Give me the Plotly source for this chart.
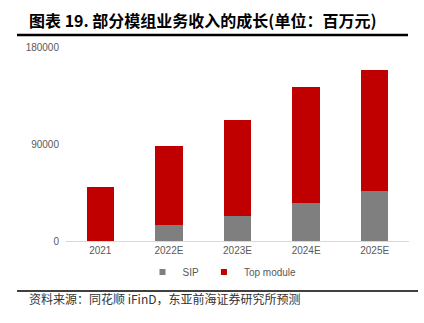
import plotly.graph_objects as go

categories = ["2021", "2022E", "2023E", "2024E", "2025E"]
sip = [0, 15300, 23000, 35400, 46200]
top_module = [50200, 73200, 89600, 107500, 112800]
y_ticks = [0, 90000, 180000]

W, H = 424, 323
L, R, T, B = 66, 15, 47, 82
pw, ph = W - L - R, H - T - B

def px(x):
    return (x - L) / pw

def py(y):
    return (H - B - y) / ph

GRAY, RED = "#7f7f7f", "#c00000"

fig = go.Figure()
fig.add_trace(go.Bar(x=categories, y=sip, name="SIP", showlegend=False,
                     marker=dict(color=GRAY, line=dict(width=0))))
fig.add_trace(go.Bar(x=categories, y=top_module, name="Top module", showlegend=False,
                     marker=dict(color=RED, line=dict(width=0))))
# legend entries
fig.add_trace(go.Scatter(x=[None], y=[None], mode="markers", name="SIP",
                         marker=dict(symbol="square", size=6, color=GRAY)))
fig.add_trace(go.Scatter(x=[None], y=[None], mode="markers", name="Top module",
                         marker=dict(symbol="square", size=6, color=RED)))

fig.update_layout(
    width=W, height=H,
    margin=dict(l=L, r=R, t=T, b=B, autoexpand=False),
    barmode="stack", bargap=0.6,
    plot_bgcolor="white", paper_bgcolor="white",
    font=dict(family="Liberation Sans, Arial", size=10, color="#595959"),
    showlegend=True,
    legend=dict(orientation="h", x=px(222), xanchor="center", y=py(272), yanchor="middle",
                font=dict(size=10, color="#595959"), itemwidth=30, traceorder="normal",
                bgcolor="rgba(0,0,0,0)"),
    xaxis=dict(showline=True, linecolor="#d9d9d9", linewidth=1, ticks="", showgrid=False,
               tickfont=dict(size=10, color="#595959")),
    yaxis=dict(range=[0, 180000], tickvals=y_ticks, ticktext=[str(v) for v in y_ticks],
               showgrid=False, zeroline=False, showline=False, ticks="",
               ticklabelstandoff=6, tickfont=dict(size=10, color="#595959")),
)

fig.add_annotation(text="<b>图表 19. 部分模组业务收入的成长(单位：百万元)</b>", xref="paper", yref="paper",
                   x=px(27), y=py(20), xanchor="left", yanchor="middle", showarrow=False,
                   font=dict(family="Noto Sans CJK SC", size=16, color="black"))
fig.add_shape(type="line", xref="paper", yref="paper", x0=px(17), x1=px(408), y0=py(35), y1=py(35),
              line=dict(color="black", width=2.5))
fig.add_shape(type="line", xref="paper", yref="paper", x0=px(17), x1=px(418), y0=py(291), y1=py(291),
              line=dict(color="black", width=1.5))
fig.add_annotation(text="资料来源：同花顺 iFinD，东亚前海证券研究所预测", xref="paper", yref="paper",
                   x=px(27), y=py(298), xanchor="left", yanchor="middle", showarrow=False,
                   font=dict(family="Noto Sans CJK SC", size=12, color="#333333"))

fig.write_html("out.html")
